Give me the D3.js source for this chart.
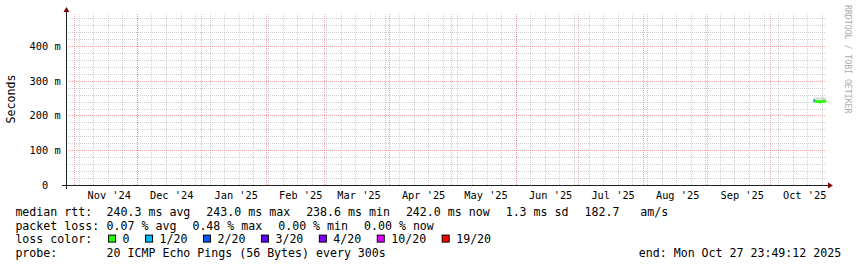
<!DOCTYPE html>
<html>
<head>
<meta charset="utf-8">
<script src="https://cdn.jsdelivr.net/npm/d3@7"></script>
<style>
  body { margin: 0; background: #fff; }
  svg { display: block; }
  text { font-family: "DejaVu Sans Mono", monospace; white-space: pre; }
</style>
</head>
<body>
<div id="chart"></div>
<script>
// Chart data.
const sampleTimes = [
  "2025-10-22 00:00", "2025-10-22 12:00", "2025-10-23 00:00", "2025-10-23 12:00",
  "2025-10-24 00:00", "2025-10-24 12:00", "2025-10-25 00:00", "2025-10-25 12:00",
  "2025-10-26 00:00", "2025-10-26 12:00", "2025-10-27 00:00", "2025-10-27 12:00"
];
const medianMs = [242.6, 241.2, 240.4, 239.6, 240.0, 239.1, 238.6, 239.7, 240.5, 241.3, 240.1, 242.0];
const smokeLowMs = [236.0, 236.5, 236.8, 236.2, 236.9, 236.4, 235.8, 236.6, 237.0, 237.2, 236.5, 237.4];
const smokeHighMs = [249.0, 252.5, 253.0, 251.8, 252.2, 251.0, 250.4, 252.0, 253.2, 252.6, 251.5, 250.0];
const lossPings = [2, 0, 0, 0, 0, 0, 0, 0, 0, 0, 0, 0];

const lossSteps = [0, 1, 2, 3, 4, 10, 19];
const lossLabels = ["0", "1/20", "2/20", "3/20", "4/20", "10/20", "19/20"];
const lossColors = ["#26ff00", "#00b8ff", "#0059ff", "#5e00ff", "#7e00ff", "#dd00ff", "#ff0000"];

const yTicks = [0, 100, 200, 300, 400];
const rttStats = ["240.3 ms avg", "243.0 ms max", "238.6 ms min", "242.0 ms now", "1.3 ms sd", "182.7   am/s"];
const lossStats = ["0.07 % avg", "0.48 % max", "0.00 % min", "0.00 % now"];
const probeText = "20 ICMP Echo Pings (56 Bytes) every 300s";
const endText = "end: Mon Oct 27 23:49:12 2025";
const endTime = new Date(2025, 9, 27, 23, 49, 12);

// Layout
const W = 857, H = 267;
const plot = { left: 66, right: 826, top: 14, bottom: 185 };
const tab = 106.6;     // tab stop for legend values
const lineH = 13.8;

const parse = d3.timeParse("%Y-%m-%d %H:%M");
const startTime = d3.timeDay.offset(endTime, -365);

const x = d3.scaleTime().domain([startTime, endTime]).range([plot.left, plot.right]);
const y = d3.scaleLinear().domain([0, 492]).range([plot.bottom, plot.top]);

const svg = d3.select("#chart").append("svg")
  .attr("width", W)
  .attr("height", H);

svg.append("rect").attr("width", W).attr("height", H).attr("fill", "#fff");

const px = v => Math.round(v) + 0.5;

// Minor grid: weeks and every 20 ms
const minorGrid = svg.append("g")
  .attr("stroke", "rgba(140,140,140,0.4)")
  .attr("stroke-dasharray", "1,1");

minorGrid.selectAll("line.wk")
  .data(d3.timeSunday.range(startTime, endTime))
  .join("line")
  .attr("class", "wk")
  .attr("x1", d => px(x(d))).attr("x2", d => px(x(d)))
  .attr("y1", plot.bottom).attr("y2", plot.top);

minorGrid.selectAll("line.ms")
  .data(d3.range(20, 492, 20).filter(v => v % 100 !== 0))
  .join("line")
  .attr("class", "ms")
  .attr("x1", plot.left).attr("x2", plot.right)
  .attr("y1", d => px(y(d))).attr("y2", d => px(y(d)));

// Major grid: months and every 100 ms
const majorGrid = svg.append("g")
  .attr("stroke", "rgba(235,95,95,0.55)")
  .attr("stroke-dasharray", "1,1");

majorGrid.selectAll("line.mo")
  .data(d3.timeMonth.range(startTime, endTime))
  .join("line")
  .attr("class", "mo")
  .attr("x1", d => px(x(d))).attr("x2", d => px(x(d)))
  .attr("y1", plot.bottom).attr("y2", plot.top);

majorGrid.selectAll("line.hm")
  .data(yTicks.filter(v => v > 0))
  .join("line")
  .attr("class", "hm")
  .attr("x1", plot.left).attr("x2", plot.right)
  .attr("y1", d => px(y(d))).attr("y2", d => px(y(d)));

// Data: smoke and median coloured by loss
const samples = sampleTimes.map((t, i) => ({
  t0: parse(t),
  t1: i < sampleTimes.length - 1 ? parse(sampleTimes[i + 1]) : endTime,
  median: medianMs[i],
  lo: smokeLowMs[i],
  hi: smokeHighMs[i],
  loss: lossPings[i]
}));

const lossColor = l => lossColors[d3.bisectRight(lossSteps, l) - 1];

svg.append("g").selectAll("rect")
  .data(samples)
  .join("rect")
  .attr("x", d => x(d.t0))
  .attr("width", d => x(d.t1) - x(d.t0))
  .attr("y", d => y(d.hi))
  .attr("height", d => y(d.lo) - y(d.hi))
  .attr("fill", "#d4d4d4");

svg.append("g").selectAll("rect")
  .data(samples)
  .join("rect")
  .attr("x", d => x(d.t0))
  .attr("width", d => x(d.t1) - x(d.t0) + 0.3)
  .attr("y", d => y(d.median) - 1.3)
  .attr("height", 2.6)
  .attr("fill", d => lossColor(d.loss));

// Axes
const axisCol = "#212121";
svg.append("line")
  .attr("x1", plot.left - 4).attr("x2", plot.right + 4)
  .attr("y1", plot.bottom + 0.5).attr("y2", plot.bottom + 0.5)
  .attr("stroke", axisCol);
svg.append("line")
  .attr("x1", plot.left + 0.5).attr("x2", plot.left + 0.5)
  .attr("y1", plot.bottom + 4).attr("y2", plot.top - 4)
  .attr("stroke", axisCol);

svg.append("path")
  .attr("d", `M${plot.right + 2},${plot.bottom - 2.5}L${plot.right + 7},${plot.bottom + 0.5}L${plot.right + 2},${plot.bottom + 3.5}Z`)
  .attr("fill", "#800000");
svg.append("path")
  .attr("d", `M${plot.left - 2.5},${plot.top - 2}L${plot.left + 0.5},${plot.top - 7}L${plot.left + 3.5},${plot.top - 2}Z`)
  .attr("fill", "#800000");

// Month labels, centred inside each month
const xAxis = d3.axisBottom(x)
  .tickValues(d3.timeMonth.range(startTime, endTime).map(m => d3.timeHour.offset(m, 396)))
  .tickFormat(d3.timeFormat("%b '%y"))
  .tickSize(0)
  .tickPadding(6.7);

svg.append("g")
  .attr("transform", `translate(0,${plot.bottom})`)
  .call(xAxis)
  .call(g => g.select(".domain").remove())
  .call(g => g.selectAll("text")
    .attr("fill", "#000")
    .style("font-family", "'DejaVu Sans Mono', monospace")
    .style("font-size", "10.3px"));

const yAxis = d3.axisLeft(y)
  .tickValues(yTicks)
  .tickFormat(d => d === 0 ? "0  " : d + " m")
  .tickSize(0)
  .tickPadding(0);

svg.append("g")
  .attr("transform", "translate(60.6,0)")
  .call(yAxis)
  .call(g => g.select(".domain").remove())
  .call(g => g.selectAll("text")
    .attr("fill", "#000")
    .style("font-family", "'DejaVu Sans Mono', monospace")
    .style("font-size", "10.3px"));

// Axis title
svg.append("text")
  .attr("transform", "translate(15.3,99) rotate(-90)")
  .attr("text-anchor", "middle")
  .style("font-size", "11.6px")
  .text("Seconds");

// Watermark
svg.append("text")
  .attr("transform", "translate(845,5) rotate(90)")
  .attr("fill", "#ababab")
  .style("font-size", "8.2px")
  .text("RRDTOOL / TOBI OETIKER");

// Legend rows
const legend = svg.append("g").style("font-size", "11.6px").attr("fill", "#000");
const rowY = [215.8, 215.8 + lineH, 215.8 + 2 * lineH, 215.8 + 3 * lineH];

function statRow(yy, label, items, gap) {
  legend.append("text").attr("x", 15.4).attr("y", yy).text(label);
  let xx = tab;
  items.forEach(s => {
    const t = legend.append("text").attr("x", xx).attr("y", yy).text(s);
    xx += t.node().getComputedTextLength() + gap;
  });
}

statRow(rowY[0], "median rtt:", rttStats, 16);
statRow(rowY[1], "packet loss:", lossStats, 16);

legend.append("text").attr("x", 15.4).attr("y", rowY[2]).text("loss color:");
let lx = tab;
lossLabels.forEach((lab, i) => {
  legend.append("rect")
    .attr("x", lx + 2).attr("y", rowY[2] - 8.3)
    .attr("width", 7).attr("height", 7)
    .attr("fill", lossColors[i])
    .attr("stroke", "#000");
  const t = legend.append("text").attr("x", lx + 16).attr("y", rowY[2]).text(lab);
  lx += 16 + t.node().getComputedTextLength() + 14;
});

statRow(rowY[3], "probe:", [probeText], 16);
legend.append("text")
  .attr("x", 841.2).attr("y", rowY[3])
  .attr("text-anchor", "end")
  .text(endText);
</script>
</body>
</html>
